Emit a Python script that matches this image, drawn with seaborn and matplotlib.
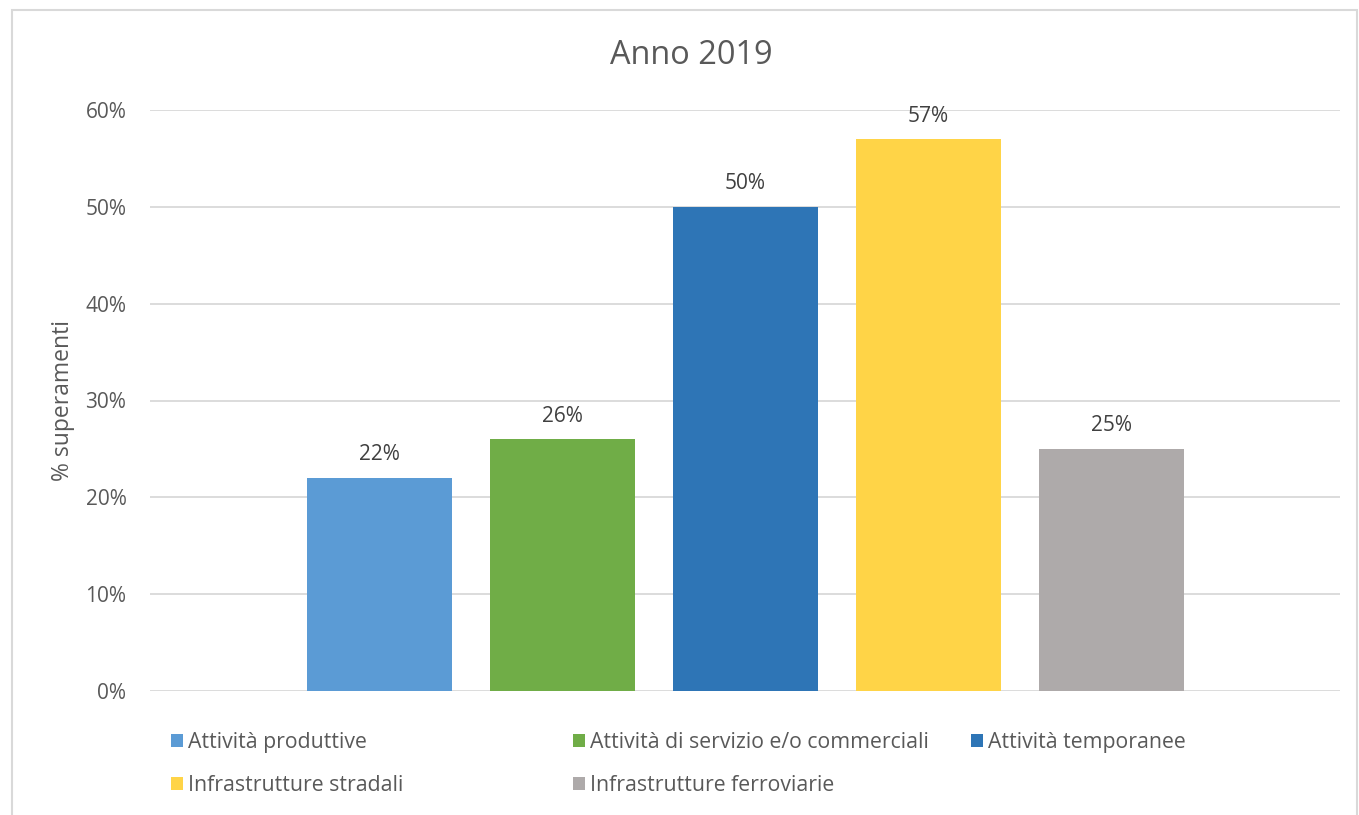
import matplotlib
matplotlib.use("Agg")
import matplotlib.pyplot as plt
import seaborn as sns
from matplotlib.patches import Rectangle
from matplotlib.ticker import FuncFormatter

# Share of exceedances by source category, year 2019
categories = [
    "Attività produttive",
    "Attività di servizio e/o commerciali",
    "Attività temporanee",
    "Infrastrutture stradali",
    "Infrastrutture ferroviarie",
]
values = [0.22, 0.26, 0.50, 0.57, 0.25]
colors = ["#5B9BD5", "#70AD47", "#2E75B6", "#FFD447", "#AEAAAA"]
y_ticks = [0.0, 0.1, 0.2, 0.3, 0.4, 0.5, 0.6]
title = "Anno 2019"
y_label = "% superamenti"

sns.set_theme(style="white")
plt.rcParams["font.family"] = ["Open Sans", "DejaVu Sans"]

TXT = "#595959"
GRID = "#D9D9D9"
W, H = 1359, 815
fig = plt.figure(figsize=(W / 100, H / 100), dpi=100)
fig.patch.set_facecolor("white")

ax = fig.add_axes([150 / W, 1 - 691 / H, 1190 / W, (691 - 110) / H])

sns.barplot(x=categories, y=values, hue=categories, palette=colors,
            order=categories, hue_order=categories, width=0.792,
            legend=False, saturation=1, linewidth=0, ax=ax)

ax.set_xlim(-1.254, 5.249)
ax.set_ylim(0, 0.6)
ax.set_yticks(y_ticks)
ax.yaxis.set_major_formatter(FuncFormatter(lambda v, _: f"{v * 100:.0f}%"))
ax.tick_params(axis="y", length=0, pad=17, labelsize=15, labelcolor=TXT)
ax.set_xticks([])
ax.set_xlabel("")
ax.set_ylabel(y_label, fontsize=16.5, color=TXT)
ax.yaxis.set_label_coords(-0.063, 0.5)
for s in ax.spines.values():
    s.set_visible(False)
ax.grid(axis="y", color=GRID, linewidth=1.3)
ax.set_axisbelow(True)

for cont in ax.containers:
    ax.bar_label(cont, labels=[f"{v * 100:.0f}%" for v in cont.datavalues],
                 padding=9, fontsize=15, color="#404040")

fig.text(691.5 / W, 1 - 55 / H, title, ha="center", va="center",
         fontsize=23.4, color=TXT)

# legend laid out in three columns, two rows
handles = list(ax.patches)[:len(categories)]
handle_of = dict(zip(categories, handles))
columns = [
    (171, [categories[0], categories[3]]),
    (573, [categories[1], categories[4]]),
    (971, [categories[2]]),
]
for x0, labels in columns:
    hs = [Rectangle((0, 0), 1, 1, facecolor=handle_of[l].get_facecolor(),
                    edgecolor="none") for l in labels]
    fig.legend(hs, labels, loc="upper left",
               bbox_to_anchor=(x0 / W, 1 - 732 / H),
               frameon=False, fontsize=15.3, handlelength=0.58,
               handleheight=0.58, handletextpad=0.2,
               labelspacing=1.05, borderaxespad=0, borderpad=0,
               labelcolor=TXT)

# chart frame
fig.patches.append(Rectangle((12 / W, -0.01), (1357 - 12) / W, 1 - 10 / H + 0.01,
                             transform=fig.transFigure, fill=False,
                             edgecolor=GRID, linewidth=1.5))

fig.savefig("out.png", dpi=100)
